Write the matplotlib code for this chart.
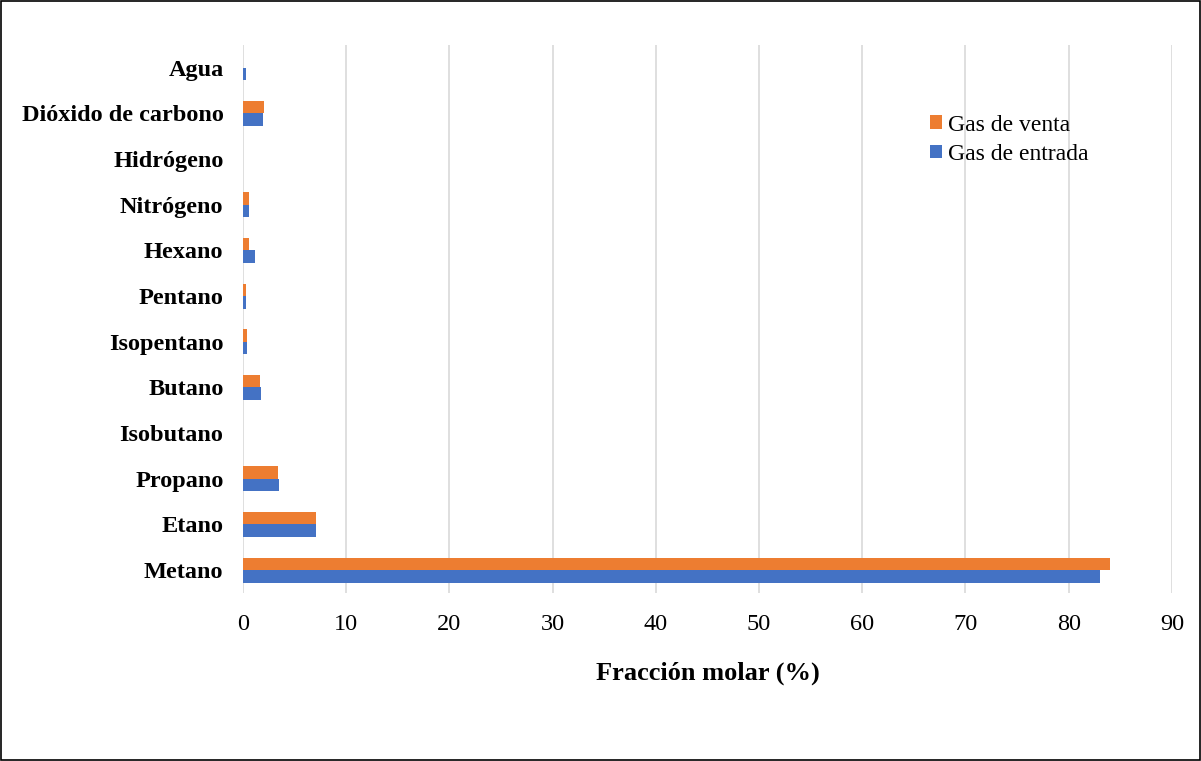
import numpy as np
import matplotlib
matplotlib.use("Agg")
import matplotlib.pyplot as plt
from matplotlib.patches import Rectangle

# Data (bottom to top)
components = ["Metano", "Etano", "Propano", "Isobutano", "Butano", "Isopentano",
              "Pentano", "Hexano", "Nitrógeno", "Hidrógeno", "Dióxido de carbono", "Agua"]
gas_entrada = [83.0, 7.1, 3.5, 0.05, 1.75, 0.4, 0.3, 1.15, 0.6, 0.0, 1.95, 0.25]
gas_venta = [84.0, 7.1, 3.4, 0.05, 1.65, 0.35, 0.25, 0.6, 0.6, 0.0, 2.0, 0.0]

plt.rcParams['font.family'] = ['Liberation Serif', 'DejaVu Serif']

fig = plt.figure(figsize=(12.01, 7.61), dpi=100)
ax = fig.add_axes([0.2023, 0.2208, 0.7735, 0.7201])

y = np.arange(len(components))
h = 0.275
ax.barh(y - h / 2, gas_entrada, height=h, color='#4472C4', label='Gas de entrada', zorder=3)
ax.barh(y + h / 2, gas_venta, height=h, color='#ED7D31', label='Gas de venta', zorder=3)

ax.set_xlim(0, 90)
ax.set_ylim(-0.5, len(components) - 0.5)
ax.set_xticks(np.arange(0, 91, 10))
ax.set_yticks(y)
ax.set_yticklabels(components, fontsize=17.5, fontweight='bold')
ax.tick_params(axis='x', labelsize=17.5, length=0, pad=15)
ax.tick_params(axis='y', length=0, pad=14)
ax.grid(axis='x', color='#D9D9D9', linewidth=1.2, zorder=0)
ax.set_axisbelow(True)
for s in ax.spines.values():
    s.set_visible(False)

ax.set_xlabel("Fracción molar (%)", fontsize=19, fontweight='bold', labelpad=19)

handles, labels = ax.get_legend_handles_labels()
ax.legend(handles[::-1], labels[::-1], loc='upper left', bbox_to_anchor=(0.74, 0.873),
          frameon=False, fontsize=17, handlelength=0.5, handleheight=0.5,
          handletextpad=0.25, labelspacing=0.35, borderpad=0, borderaxespad=0)

fig.patches.append(Rectangle((0.001, 0.001), 0.998, 0.998, transform=fig.transFigure,
                             fill=False, edgecolor='black', linewidth=1.2))

fig.savefig("out.png", dpi=100)
